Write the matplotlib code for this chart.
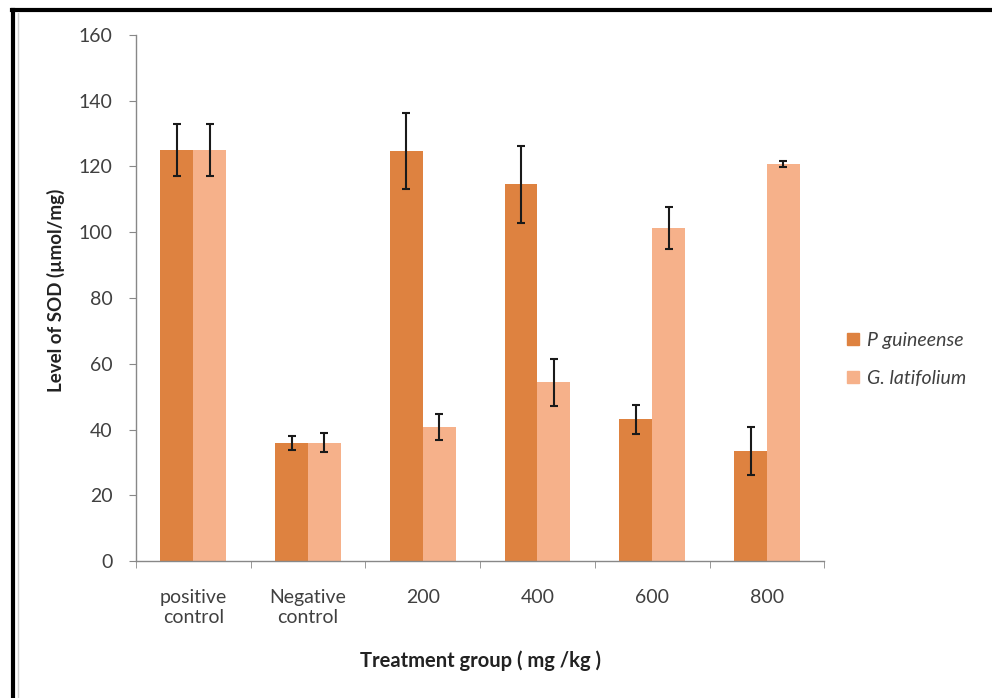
import numpy as np
import matplotlib.pyplot as plt
from matplotlib.lines import Line2D

categories = ['positive\ncontrol', 'Negative\ncontrol', '200', '400', '600', '800']
p_guineense = [125, 36, 124.7, 114.6, 43.1, 33.6]
p_guineense_err = [8, 2.2, 11.5, 11.7, 4.3, 7.3]
g_latifolium = [125, 36, 40.8, 54.4, 101.2, 120.8]
g_latifolium_err = [8, 2.9, 4, 7.2, 6.4, 1]
series_names = ['P guineense', 'G. latifolium']

DARK = '#DE8240'
LIGHT = '#F6B18A'
GREY = '#404040'

plt.rcParams['font.family'] = ['Lato', 'DejaVu Sans']

fig = plt.figure(figsize=(9.92, 6.98), dpi=100)
ax = fig.add_axes([0.137, 0.196, 0.694, 0.754])

x = np.arange(len(categories))
w = 1 / 3.5
ax.bar(x - w / 2, p_guineense, w, color=DARK, label=series_names[0],
       yerr=p_guineense_err, capsize=3,
       error_kw=dict(ecolor='#1a1a1a', elinewidth=1.5, capthick=1.5))
ax.bar(x + w / 2, g_latifolium, w, color=LIGHT, label=series_names[1],
       yerr=g_latifolium_err, capsize=3,
       error_kw=dict(ecolor='#1a1a1a', elinewidth=1.5, capthick=1.5))

ax.set_xlim(-0.5, len(categories) - 0.5)
ax.set_ylim(0, 160)
ax.set_yticks(np.arange(0, 161, 20))
ax.set_xticks(x)
ax.set_xticklabels(categories, fontsize=14, color=GREY, linespacing=1.25)
ax.set_xticks(np.arange(-0.5, len(categories), 1), minor=True)
ax.tick_params(axis='x', which='major', length=0, pad=20)
ax.tick_params(axis='x', which='minor', length=5, color='#888888')
ax.tick_params(axis='y', length=5, color='#888888', labelsize=14, labelcolor=GREY, pad=12)

for s in ['top', 'right']:
    ax.spines[s].set_visible(False)
for s in ['left', 'bottom']:
    ax.spines[s].set_color('#888888')
    ax.spines[s].set_linewidth(1)

ax.set_ylabel('Level of SOD (µmol/mg)', fontsize=13.5, fontweight='bold', color='#222222')
ax.yaxis.set_label_coords(-0.103, 0.515)
ax.set_xlabel('Treatment group ( mg /kg )', fontsize=14.5, fontweight='bold', color='#222222', labelpad=17)

handles = [Line2D([], [], marker='s', linestyle='none', color=DARK, markersize=8),
           Line2D([], [], marker='s', linestyle='none', color=LIGHT, markersize=8)]
leg = fig.legend(handles, series_names, loc='center left', bbox_to_anchor=(0.852, 0.485),
                 frameon=False, handletextpad=0.3, labelspacing=1.05, handlelength=0.8,
                 borderpad=0, borderaxespad=0,
                 prop=dict(style='italic', size=14))
for t in leg.get_texts():
    t.set_color(GREY)

# outer frame (top and left only, picture is cropped)
fig.add_artist(Line2D([0.013, 0.013], [0, 0.986], transform=fig.transFigure, color='black', linewidth=3))
fig.add_artist(Line2D([0.012, 1.0], [0.986, 0.986], transform=fig.transFigure, color='black', linewidth=3))
fig.add_artist(Line2D([0.018, 0.018], [0, 0.982], transform=fig.transFigure, color='#d0d0d0', linewidth=1))

fig.savefig('out.png', dpi=100)
